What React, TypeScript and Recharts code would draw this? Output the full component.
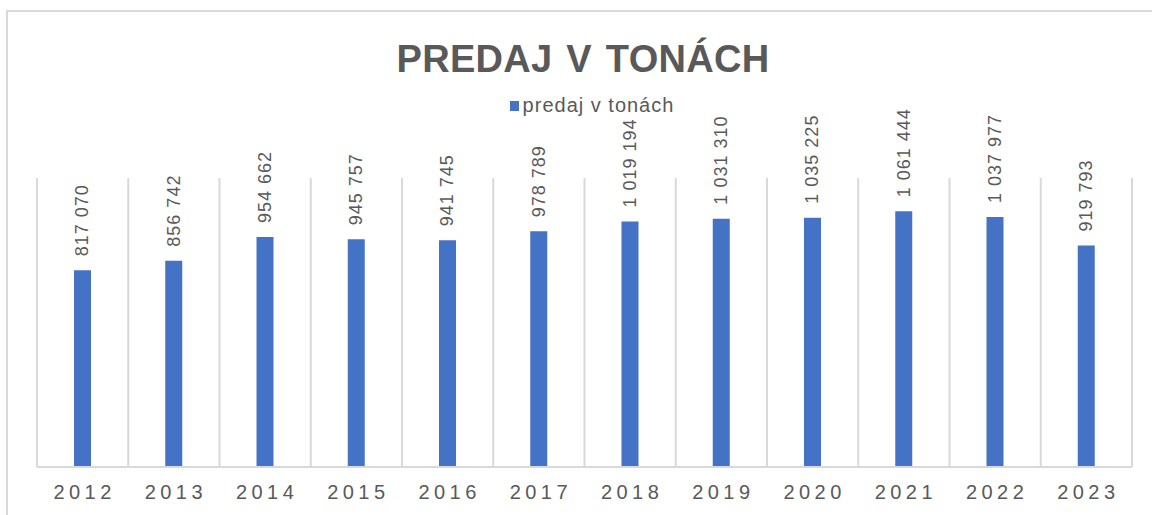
import { BarChart, Bar, XAxis, YAxis, CartesianGrid, LabelList } from "recharts";

const years = ["2012", "2013", "2014", "2015", "2016", "2017", "2018", "2019", "2020", "2021", "2022", "2023"];
const tons = [817070, 856742, 954662, 945757, 941745, 978789, 1019194, 1031310, 1035225, 1061444, 1037977, 919793];
const yDomain = [0, 1200000];

const BLUE = "#4472C4";
const GREY_TEXT = "#595959";
const GRID = "#d9d9d9";
const FONT = "'Liberation Sans', Arial, sans-serif";

const data = years.map((y, i) => ({ year: y, tons: tons[i] }));

// 1061444 -> "1 061 444"
const fmt = (v: number) => String(v).replace(/\B(?=(\d{3})+(?!\d))/g, " ");

function RotatedLabel(props: any) {
  const { x, y, width, value } = props;
  const cx = x + width / 2;
  const cy = y - 14;
  return (
    <text
      x={cx}
      y={cy}
      transform={`rotate(-90 ${cx} ${cy})`}
      textAnchor="start"
      dominantBaseline="central"
      fontSize={18}
      letterSpacing={1}
      fill={GREY_TEXT}
      fontFamily={FONT}
    >
      {fmt(value)}
    </text>
  );
}

export default function App() {
  return (
    <div
      style={{
        position: "absolute",
        left: 0,
        top: 0,
        width: 1152,
        height: 515,
        background: "#fff",
        fontFamily: FONT,
        overflow: "hidden",
      }}
    >
      {/* chart frame: only top and left edges visible in the crop */}
      <div
        style={{
          position: "absolute",
          left: 6,
          top: 10,
          width: 1200,
          height: 600,
          borderTop: `2px solid ${GRID}`,
          borderLeft: `2px solid ${GRID}`,
        }}
      />
      <div
        style={{
          position: "absolute",
          left: 0,
          top: 38,
          width: 1166,
          textAlign: "center",
          fontSize: 38,
          fontWeight: 700,
          letterSpacing: 0.3,
          color: GREY_TEXT,
          wordSpacing: 3,
        }}
      >
        PREDAJ V TONÁCH
      </div>
      <div
        style={{
          position: "absolute",
          left: 0,
          top: 94,
          width: 1184,
          display: "flex",
          justifyContent: "center",
          alignItems: "center",
          fontSize: 20,
          letterSpacing: 1,
          color: GREY_TEXT,
        }}
      >
        <span style={{ display: "inline-block", width: 9, height: 10, background: BLUE, marginRight: 4 }} />
        predaj v tonách
      </div>
      <div style={{ position: "absolute", left: 0, top: 0 }}>
        <BarChart
          width={1152}
          height={515}
          data={data}
          margin={{ top: 178, right: 20, bottom: 18, left: 37 }}
          barCategoryGap={0}
        >
          <CartesianGrid
            horizontal={false}
            stroke={GRID}
            strokeWidth={2}
            verticalCoordinatesGenerator={({ offset }: any) =>
              years.map((_, i) => offset.left + (i * offset.width) / years.length).concat(offset.left + offset.width)
            }
          />
          <XAxis
            dataKey="year"
            height={30}
            axisLine={{ stroke: GRID, strokeWidth: 2 }}
            tickLine={false}
            tick={{ fontSize: 20, fill: GREY_TEXT, letterSpacing: 4.5, fontFamily: FONT, dx: 2 }}
            tickMargin={12}
          />
          <YAxis hide domain={yDomain} />
          <Bar dataKey="tons" fill={BLUE} barSize={17} isAnimationActive={false}>
            <LabelList dataKey="tons" content={<RotatedLabel />} />
          </Bar>
        </BarChart>
      </div>
    </div>
  );
}
